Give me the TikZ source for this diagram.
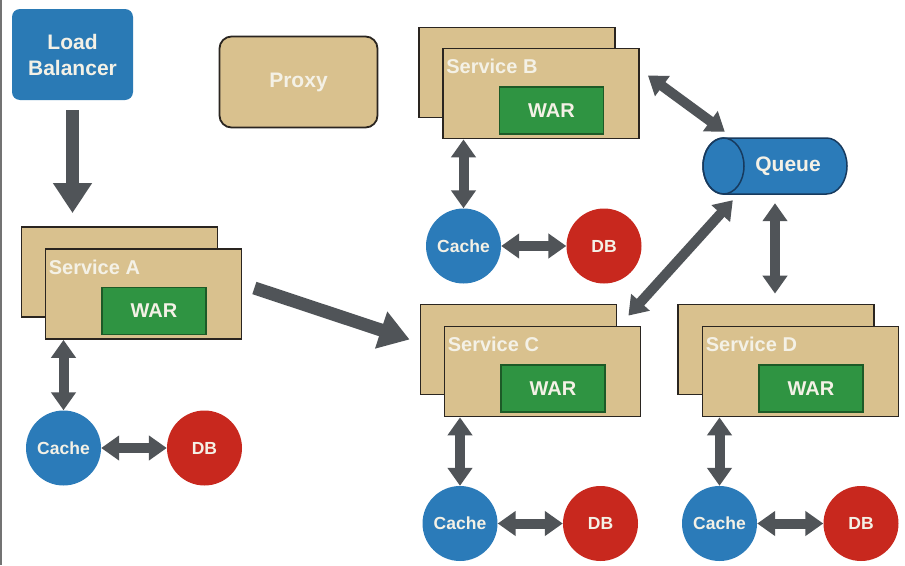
\documentclass[tikz,border=0pt]{standalone}
\usepackage{fontspec}
\setmainfont{Liberation Sans}
\usetikzlibrary{arrows.meta,calc}
\definecolor{lbblue}{HTML}{2A7AB5}
\definecolor{cblue}{HTML}{2B7BB9}
\definecolor{qborder}{HTML}{173A5E}
\definecolor{dbred}{HTML}{C8281E}
\definecolor{tan}{HTML}{D9C18E}
\definecolor{svcborder}{HTML}{2A2520}
\definecolor{wargreen}{HTML}{2F9442}
\definecolor{warborder}{HTML}{1D5A27}
\definecolor{arrgray}{HTML}{505458}
\definecolor{txtwhite}{HTML}{F4F1E6}
\tikzset{
  svc/.style={draw=svcborder, line width=1.8pt, fill=tan, minimum width=196pt, minimum height=90pt, inner sep=0pt},
  war/.style={draw=warborder, line width=1.4pt, fill=wargreen, minimum width=104pt, minimum height=47pt, inner sep=0pt, text=txtwhite, font=\bfseries\fontsize{20}{24}\selectfont},
  svclabel/.style={anchor=west, inner sep=0pt, text=txtwhite, font=\bfseries\fontsize{20}{24}\selectfont},
  cachenode/.style={circle, fill=cblue, minimum size=75pt, inner sep=0pt, text=txtwhite, font=\bfseries\fontsize{17.5}{20}\selectfont},
  dbnode/.style={circle, fill=dbred, minimum size=75pt, inner sep=0pt, text=txtwhite, font=\bfseries\fontsize{17.5}{20}\selectfont},
  dbl/.style={line width=10pt, draw=arrgray, {Triangle[width=24pt,length=18pt]}-{Triangle[width=24pt,length=18pt]}},
  big/.style={line width=13pt, draw=arrgray, -{Triangle[width=37pt,length=30pt]}},
}
\begin{document}
\begin{tikzpicture}[x=1pt,y=-1pt]
\useasboundingbox (0,0) rectangle (905,565);
\fill[white] (0,0) rectangle (905,565);
\draw[line width=2pt, black!55] (1,0) -- (1,565);

% Load balancer and proxy
\node[fill=lbblue, rounded corners=8pt, minimum width=121pt, minimum height=91pt, inner sep=0pt, text=txtwhite, align=center, font=\bfseries\fontsize{21}{26}\selectfont] (LB) at (72.5,54.5) {Load\\Balancer};
\node[draw=svcborder, line width=1.8pt, fill=tan, rounded corners=12pt, minimum width=158pt, minimum height=91pt, inner sep=0pt, text=txtwhite, font=\bfseries\fontsize{21}{24}\selectfont] (P) at (298.5,82) {Proxy};

% Service A
\node[svc] (Ab) at (119.5,272) {};
\node[svc] (A) at (143.5,294) {};
\node[svclabel] (Al) at ($(A.north west)+(4,19)$) {Service A};
\node[war] (Aw) at ($(A)+(10.5,17)$) {WAR};
\node[cachenode] (cA) at (63.5,448) {Cache};
\node[dbnode] (dA) at (204.5,448) {DB};

% Service B
\node[svc] (Bb) at (517,72.5) {};
\node[svc] (B) at (541,93.5) {};
\node[svclabel] (Bl) at ($(B.north west)+(4,19)$) {Service B};
\node[war] (Bw) at ($(B)+(10.5,17)$) {WAR};
\node[cachenode] (cB) at (463.5,246) {Cache};
\node[dbnode] (dB) at (604,246) {DB};

% Service C
\node[svc] (Cb) at (518.5,349.5) {};
\node[svc] (C) at (542.5,371.5) {};
\node[svclabel] (Cl) at ($(C.north west)+(4,19)$) {Service C};
\node[war] (Cw) at ($(C)+(10.5,17)$) {WAR};
\node[cachenode] (cC) at (460,523.5) {Cache};
\node[dbnode] (dC) at (600.5,523.5) {DB};

% Service D
\node[svc] (Db) at (776,349.5) {};
\node[svc] (D) at (800.5,371.5) {};
\node[svclabel] (Dl) at ($(D.north west)+(4,19)$) {Service D};
\node[war] (Dw) at ($(D)+(10.5,17)$) {WAR};
\node[cachenode] (cD) at (719.5,523.5) {Cache};
\node[dbnode] (dD) at (861,523.5) {DB};

% Queue
\node[minimum width=144pt, minimum height=56pt, inner sep=0pt] (Q) at (775,166) {};
\filldraw[fill=cblue, draw=qborder, line width=1.5pt]
  (723.5,138) -- (826.5,138) arc[start angle=90, end angle=-90, x radius=20.5pt, y radius=28pt]
  -- (723.5,194) arc[start angle=-90, end angle=-270, x radius=20.5pt, y radius=28pt] -- cycle;
\draw[qborder, line width=1.5pt] (723.5,166) ellipse[x radius=20.5pt, y radius=28pt];
\node[inner sep=0pt, text=txtwhite, font=\bfseries\fontsize{21}{24}\selectfont] (Qt) at (788,166) {Queue};

% connectors
\draw[big, shorten <=10pt, shorten >=13pt] (LB.south) -- (LB.south |- Ab.north);
\draw[big] ($(A.east)+(12,-6)$) -- ($(Cb.west)+(-10,-10)$);
\draw[dbl] (cA.north |- A.south) -- (cA.north);
\draw[dbl] (cA.east) -- (dA.west);
\draw[dbl] (cB.north |- B.south) -- (cB.north);
\draw[dbl] (cB.east) -- (dB.west);
\draw[dbl] (cC.north |- C.south) -- (cC.north);
\draw[dbl] (cC.east) -- (dC.west);
\draw[dbl] (cD.north |- D.south) -- (cD.north);
\draw[dbl] (cD.east) -- (dD.west);
\draw[dbl] ($(B.east)+(8,-18)$) -- ($(Q.north west)+(22,-6)$);
\draw[dbl] ($(Cb.north east)+(11,12)$) -- ($(Q.south west)+(30,6)$);
\draw[dbl] ($(Q.south)+(0,9)$) -- ($(Q.south |- Db.north)+(0,-10)$);
\end{tikzpicture}
\end{document}
